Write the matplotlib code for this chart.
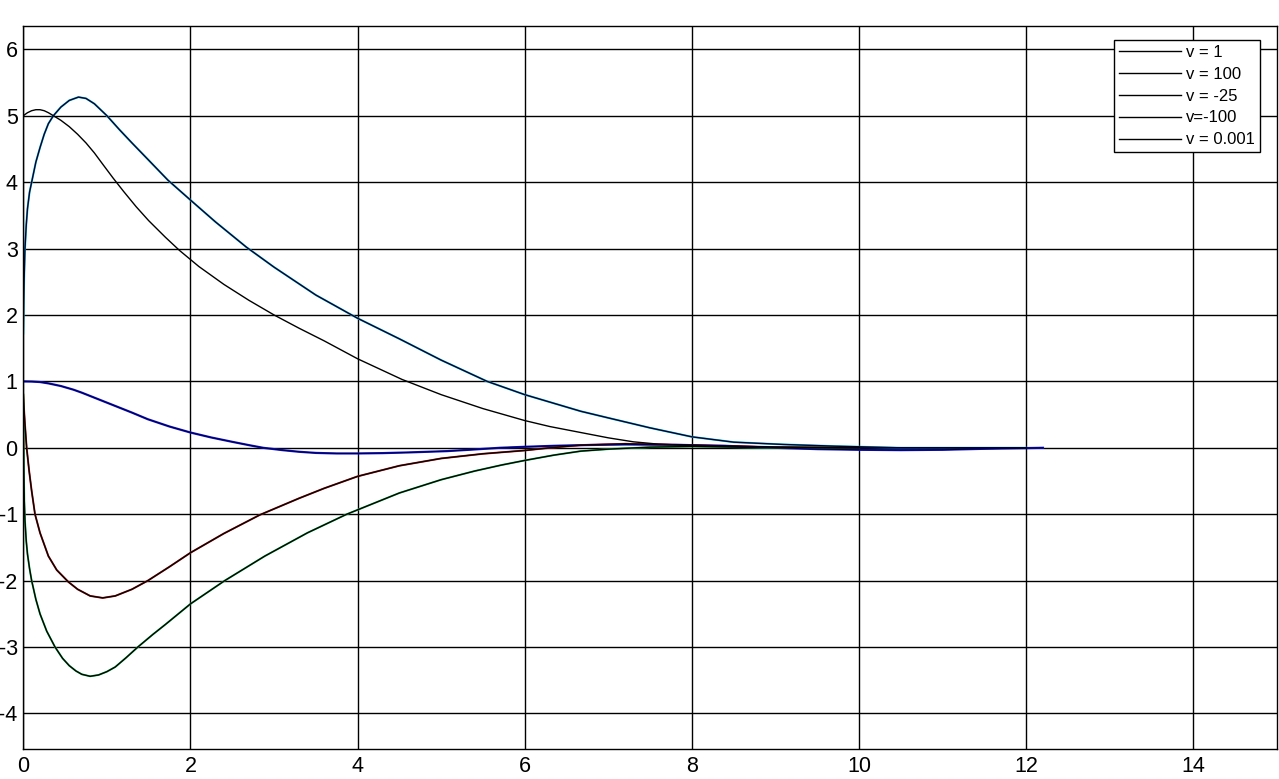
import numpy as np
import matplotlib
matplotlib.use('Agg')
import matplotlib.pyplot as plt
from matplotlib.ticker import FixedLocator

plt.rcParams['font.family'] = ['Liberation Sans', 'DejaVu Sans']

# Curvas (t, y)
t_a = [0, 0.05, 0.1, 0.15, 0.2, 0.25, 0.3, 0.36, 0.45, 0.55, 0.65, 0.75, 0.85, 0.95,
       1.075, 1.2, 1.35, 1.5, 1.7, 1.87, 2.1, 2.4, 2.7, 3.0, 3.3, 3.6, 4.0, 4.53, 5.0,
       5.5, 6.0, 6.3, 6.67, 7.0, 7.3, 7.6, 8.0, 8.5, 9.0, 10, 12]
y_a = [5.0, 5.045, 5.075, 5.09, 5.09, 5.075, 5.045, 5.0, 4.93, 4.835, 4.72, 4.59,
       4.44, 4.27, 4.06, 3.86, 3.63, 3.42, 3.17, 2.97, 2.73, 2.46, 2.22, 2.0, 1.8,
       1.61, 1.34, 1.03, 0.8, 0.59, 0.41, 0.32, 0.23, 0.15, 0.09, 0.055, 0.035, 0.02,
       0.01, 0.0, 0.0]

t_b = [0, 0.005, 0.01, 0.02, 0.035, 0.05, 0.075, 0.1, 0.15, 0.2, 0.25, 0.3, 0.36, 0.45,
       0.55, 0.66, 0.75, 0.85, 0.95, 1.0, 1.15, 1.3, 1.5, 1.73, 2.0, 2.3, 2.67, 3.0, 3.5,
       4.0, 4.5, 5.0, 5.55, 6.0, 6.67, 7.0, 7.5, 8.0, 8.5, 9.1, 9.7, 10.5, 12]
y_b = [1.72, 2.2, 2.55, 3.0, 3.35, 3.6, 3.85, 4.0, 4.3, 4.52, 4.72, 4.88, 5.0, 5.13,
       5.23, 5.28, 5.26, 5.18, 5.06, 5.0, 4.79, 4.59, 4.33, 4.03, 3.73, 3.4, 3.02, 2.72,
       2.3, 1.95, 1.64, 1.32, 1.0, 0.8, 0.55, 0.45, 0.3, 0.165, 0.085, 0.05, 0.025, 0.0, 0.0]

t_c = [0, 0.1, 0.2, 0.3, 0.45, 0.6, 0.7, 0.9, 1.1, 1.3, 1.49, 1.75, 2.0, 2.25, 2.5, 2.7,
       2.87, 3.1, 3.3, 3.5, 3.75, 4.0, 4.3, 4.6, 5.07, 5.4, 5.7, 6.0, 6.35, 6.67, 7.2,
       7.8, 8.4, 9.0, 9.5, 10, 10.5, 11, 11.5, 12.2]
y_c = [1.0, 0.998, 0.99, 0.97, 0.93, 0.875, 0.83, 0.73, 0.63, 0.53, 0.43, 0.32, 0.23,
       0.155, 0.09, 0.04, 0.0, -0.035, -0.06, -0.077, -0.085, -0.085, -0.08, -0.07,
       -0.05, -0.025, 0.0, 0.015, 0.03, 0.04, 0.05, 0.045, 0.03, 0.0, -0.02, -0.03,
       -0.035, -0.03, -0.015, 0.0]

t_d = [0, 0.01, 0.02, 0.04, 0.07, 0.1, 0.14, 0.2, 0.3, 0.4, 0.54, 0.65, 0.8, 0.95, 1.1,
       1.3, 1.49, 1.75, 2.0, 2.4, 2.83, 3.3, 3.6, 4.0, 4.5, 5.0, 5.5, 6.0, 6.3, 6.67,
       7.2, 8.0, 9.0, 10]
y_d = [0.8, 0.55, 0.35, 0.0, -0.35, -0.65, -1.0, -1.28, -1.63, -1.84, -2.02, -2.13,
       -2.23, -2.26, -2.23, -2.13, -2.0, -1.79, -1.58, -1.29, -1.01, -0.76, -0.61, -0.43,
       -0.27, -0.16, -0.09, -0.04, 0.0, 0.04, 0.06, 0.04, 0.01, 0.0]

t_e = [0, 0.003, 0.006, 0.012, 0.02, 0.035, 0.05, 0.075, 0.1, 0.15, 0.2, 0.28, 0.38,
       0.47, 0.55, 0.63, 0.7, 0.8, 0.9, 1.0, 1.1, 1.23, 1.37, 1.55, 1.7, 2.0, 2.41, 2.89,
       3.4, 3.87, 4.5, 5.0, 5.4, 5.72, 6.0, 6.35, 6.67, 7.0, 7.5, 8.0, 9.0, 10]
y_e = [0.8, 0.2, -0.3, -0.8, -1.1, -1.4, -1.6, -1.82, -2.0, -2.28, -2.5, -2.76, -3.0,
       -3.17, -3.28, -3.36, -3.41, -3.44, -3.42, -3.37, -3.3, -3.16, -3.0, -2.81, -2.66,
       -2.35, -2.0, -1.63, -1.28, -1.0, -0.68, -0.48, -0.35, -0.26, -0.19, -0.11, -0.05,
       -0.02, 0.01, 0.02, 0.0, 0.0]

etiquetas = ['v = 1', 'v = 100', 'v = -25', 'v=-100', 'v = 0.001']
xticks = [0, 2, 4, 6, 8, 10, 12, 14]
yticks = [-4, -3, -2, -1, 0, 1, 2, 3, 4, 5, 6]

fig = plt.figure(figsize=(12.79, 7.79), dpi=100)
ax = fig.add_axes([0.01822, 0.0389, 0.9802, 0.9277])

# trazos de color debajo, línea oscura encima
ax.plot(t_b, y_b, color='#30d0e0', lw=1.5)
ax.plot(t_c, y_c, color='#1010e0', lw=1.6)
ax.plot(t_d, y_d, color='#d02020', lw=1.4)
ax.plot(t_e, y_e, color='#20d060', lw=1.4)

la, = ax.plot(t_a, y_a, color='black', lw=1.0, label=etiquetas[0])
lb, = ax.plot(t_b, y_b, color='#000030', lw=1.0, label=etiquetas[1])
ld, = ax.plot(t_d, y_d, color='black', lw=1.0, label=etiquetas[2])
le, = ax.plot(t_e, y_e, color='black', lw=1.0, label=etiquetas[3])
lc, = ax.plot(t_c, y_c, color='#000030', lw=0.7, label=etiquetas[4])

ax.set_xlim(0, 15)
ax.set_ylim(-4.53, 6.35)
ax.xaxis.set_major_locator(FixedLocator(xticks))
ax.yaxis.set_major_locator(FixedLocator(yticks))
ax.set_xticklabels([str(v) for v in xticks])
ax.set_yticklabels([str(v) for v in yticks])
ax.tick_params(length=0, labelsize=15.5, colors='black')
ax.tick_params(axis='x', pad=5)
ax.tick_params(axis='y', pad=4)
ax.grid(True, color='black', lw=1.0)
ax.set_axisbelow(True)
for s in ax.spines.values():
    s.set_linewidth(1.0)
    s.set_color('black')

leg = ax.legend(handles=[la, lb, ld, le, lc], loc='upper right',
                bbox_to_anchor=(1260 / 1279, (779 - 40) / 779),
                bbox_transform=fig.transFigure, fontsize=12, fancybox=False,
                framealpha=1, edgecolor='black', borderaxespad=0,
                handlelength=3.7, handletextpad=0.3, labelspacing=0.41,
                borderpad=0.3)
leg.get_frame().set_linewidth(1.0)
for h in leg.get_lines():
    h.set_linewidth(1.0)
    h.set_color('black')

fig.savefig('out.png', dpi=100)
